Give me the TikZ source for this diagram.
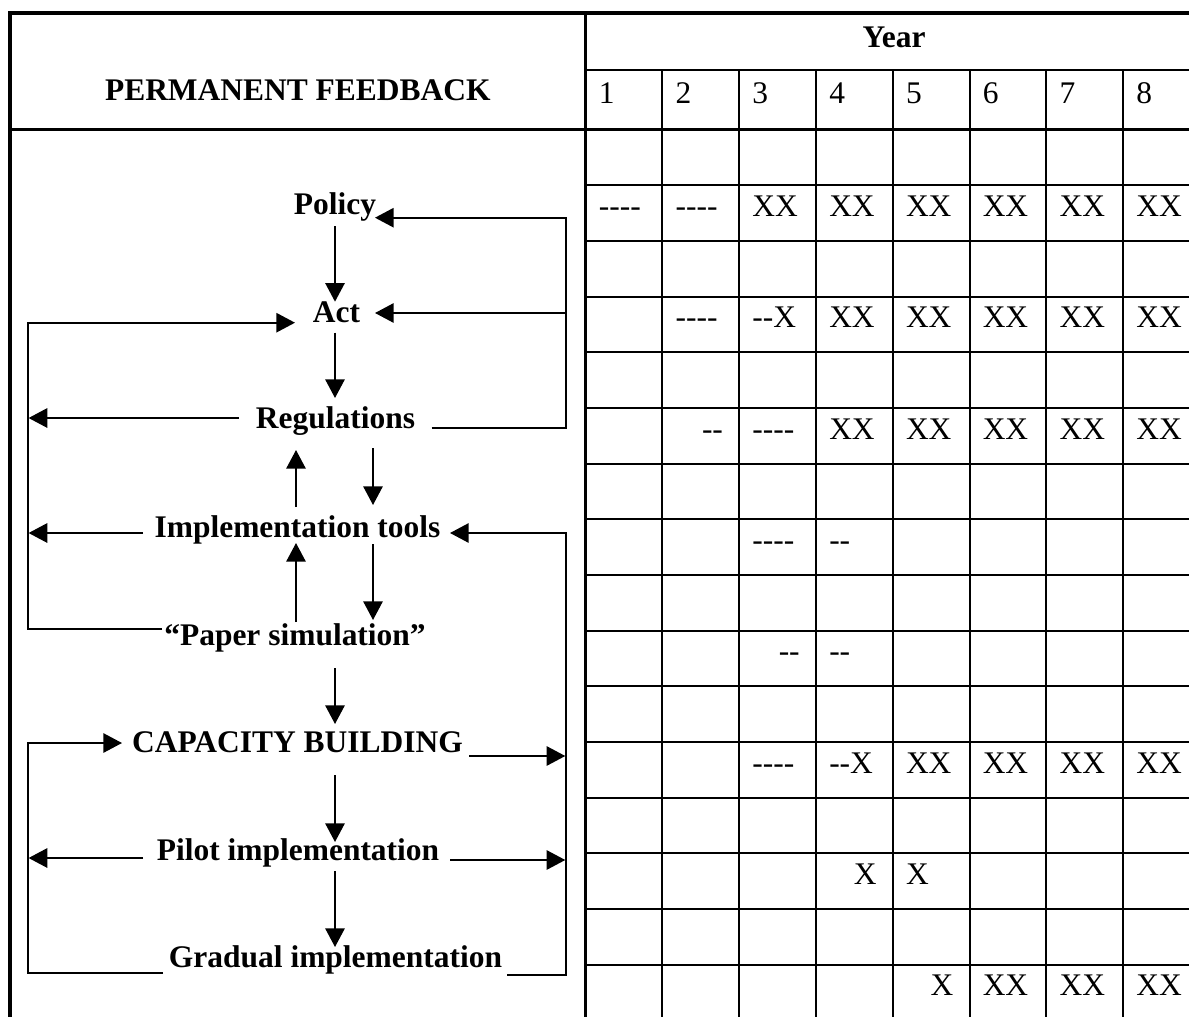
\documentclass[tikz,border=0pt]{standalone}
\usepackage{fontspec}
\setmainfont{Liberation Serif}[Ligatures=TeXOff]
\usetikzlibrary{arrows.meta}
\begin{document}
\begin{tikzpicture}[x=0.75pt,y=-0.75pt,
  hdr/.style={font=\fontsize{23.6}{28}\selectfont\bfseries, inner sep=0pt, anchor=base},
  lbl/.style={font=\fontsize{23.6}{28}\selectfont\bfseries, inner sep=0pt, anchor=base},
  cellw/.style={font=\fontsize{23.6}{28}\selectfont, inner sep=0pt, anchor=base west},
  celle/.style={font=\fontsize{23.6}{28}\selectfont, inner sep=0pt, anchor=base east},
  oline/.style={line width=2.6pt, line join=miter, line cap=rect},
  cline/.style={line width=2pt},
  tline/.style={line width=1.5pt},
  arr/.style={line width=1.4pt, line join=miter, -{Triangle[length=14pt,width=14.5pt]}},
  fbl/.style={line width=1.4pt, line join=miter}
]
\useasboundingbox (0,0) rectangle (1189,1017);

% ---------- table ----------
\draw[oline] (10,1020) -- (10,13) -- (1192,13);
\draw[oline] (10,129.5) -- (1192,129.5);
\draw[cline] (585.7,13) -- (585.7,1020);
\draw[tline] (585.7,70) -- (1192,70);
\foreach \c in {1,...,7}
  \draw[tline] ({585.7+76.76*\c},70) -- ({585.7+76.76*\c},1020);
\foreach \k in {1,...,15}
  \draw[tline] (585.7,{129.7+55.67*\k}) -- (1192,{129.7+55.67*\k});

% headers
\node[hdr] (pf) at (297.8,100) {PERMANENT FEEDBACK};
\node[hdr] (year) at (894,47) {Year};
\foreach \c in {1,...,8}
  \node[cellw] (num\c) at ({585.7+76.76*(\c-1)+13},103) {\c};

% cells, left aligned
\foreach \r/\c/\t in {
  1/1/----, 1/2/----, 1/3/XX, 1/4/XX, 1/5/XX, 1/6/XX, 1/7/XX, 1/8/XX,
  3/2/----, 3/3/--X, 3/4/XX, 3/5/XX, 3/6/XX, 3/7/XX, 3/8/XX,
  5/3/----, 5/4/XX, 5/5/XX, 5/6/XX, 5/7/XX, 5/8/XX,
  7/3/----, 7/4/--,
  9/4/--,
  11/3/----, 11/4/--X, 11/5/XX, 11/6/XX, 11/7/XX, 11/8/XX,
  13/5/X,
  15/6/XX, 15/7/XX, 15/8/XX}
  \node[cellw] (d\r-\c) at ({585.7+76.76*(\c-1)+13},{129.7+55.67*\r+31}) {\t};
% cells, right aligned
\foreach \r/\c/\t in {5/2/--, 9/3/--, 13/4/X, 15/5/X}
  \node[celle] (d\r-\c) at ({585.7+76.76*\c-16},{129.7+55.67*\r+31}) {\t};

% ---------- diagram labels ----------
\node[lbl] (policy) at (335,214) {Policy};
\node[lbl] (act)    at (336.5,322) {Act};
\node[lbl] (reg)    at (335.5,428) {Regulations};
\node[lbl] (tools)  at (297.5,537) {Implementation tools};
\node[lbl] (paper)  at (295,645) {“Paper simulation”};
\node[lbl] (cap)    at (297.5,752) {CAPACITY BUILDING};
\node[lbl] (pilot)  at (298,860) {Pilot implementation};
\node[lbl] (grad)   at (335.5,967) {Gradual implementation};

% ---------- connector end points ----------
\coordinate (regR)   at (431.7,428.3);
\coordinate (fbRu)   at (566,428.3);
\coordinate (polIn)  at (375,217.7);
\coordinate (actInR) at (375,313);
\coordinate (actRr)  at (566,313);
\coordinate (actInL) at (295,322.7);
\coordinate (papL)   at (162,629);
\coordinate (regL)   at (239,418);
\coordinate (regLt)  at (28.6,418);
\coordinate (toolsL) at (143,533);
\coordinate (toolsLt) at (28.6,533);
\coordinate (gradR)  at (507,975);
\coordinate (toolsIn) at (450,533);
\coordinate (capR)   at (469,756);
\coordinate (capRt)  at (565.3,756);
\coordinate (pilR)   at (450,860);
\coordinate (pilRt)  at (565.3,860);
\coordinate (gradL)  at (163,973);
\coordinate (capIn)  at (122,743);
\coordinate (pilL)   at (143,858);
\coordinate (pilLt)  at (28.6,858);

% upper right feedback: Regulations -> Act, Policy
\draw[arr] (regR) -- (fbRu) -- (566,217.7) -- (polIn);
\draw[arr] (actRr) -- (actInR);
% upper left feedback: Paper simulation -> Act, Regulations, Implementation tools
\draw[arr] (papL) -- (27.7,629) -- (27.7,322.7) -- (actInL);
\draw[arr] (regL) -- (regLt);
\draw[arr] (toolsL) -- (toolsLt);
% lower right feedback
\draw[arr] (gradR) -- (566,975) -- (566,533) -- (toolsIn);
\draw[arr] (capR) -- (capRt);
\draw[arr] (pilR) -- (pilRt);
% lower left feedback
\draw[arr] (gradL) -- (27.7,973) -- (27.7,743) -- (capIn);
\draw[arr] (pilL) -- (pilLt);

% vertical flow
\draw[arr] (335,226) -- (335,301.7);
\draw[arr] (335,332.7) -- (335,398);
\draw[arr] (373,448) -- (373,505);
\draw[arr] (296,507) -- (296,450);
\draw[arr] (373,544) -- (373,620);
\draw[arr] (296,622) -- (296,543);
\draw[arr] (335,668) -- (335,724);
\draw[arr] (335,775) -- (335,842);
\draw[arr] (335,871) -- (335,947);
\end{tikzpicture}
\end{document}
